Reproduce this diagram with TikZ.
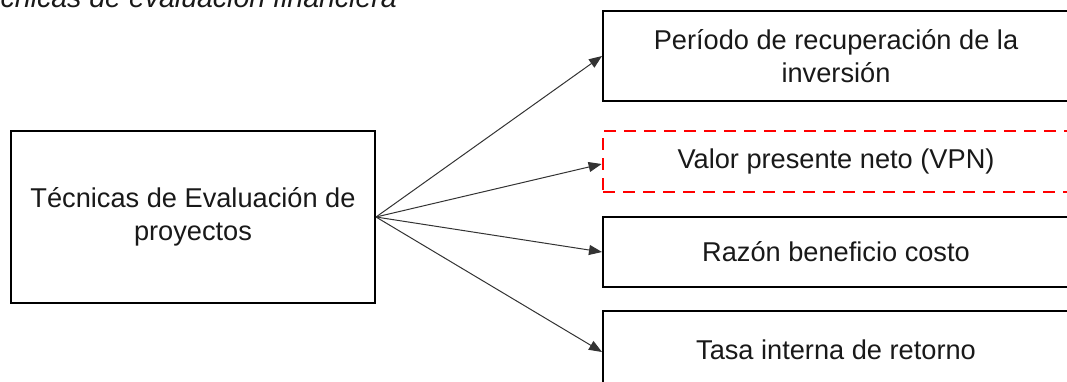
\documentclass[tikz,border=0pt]{standalone}
\usepackage{fontspec}
\setmainfont{Liberation Sans}
\usetikzlibrary{arrows.meta}
\tikzset{
  box/.style={draw=black, line width=2pt, inner sep=0pt, align=center, fill=white,
    font=\fontsize{27.2}{33}\selectfont, text=black!90},
  redbox/.style={box, draw=red, line width=2.8pt, dash pattern=on 12pt off 8pt},
  conn/.style={draw=black!80, line width=1pt, -{Triangle[length=13pt,width=10pt]}}
}
\begin{document}
\begin{tikzpicture}[x=1pt,y=-1pt]
\useasboundingbox (0,0) rectangle (1067,381);
\clip (0,0) rectangle (1067,381);
\node[anchor=base east, font=\fontsize{28.5}{34}\selectfont\itshape, text=black!90, inner sep=0pt] (title) at (397,7) {Técnicas de evaluación financiera};
\node[box, minimum width=364pt, minimum height=172pt] (main) at (193,217) {Técnicas de Evaluación de\\proyectos};
\node[box, minimum width=466pt, minimum height=90pt] (b1) at (836,56) {Período de recuperación de la\\inversión};
\node[redbox, minimum width=466pt, minimum height=61pt] (b2) at (836,161.5) {Valor presente neto (VPN)};
\node[box, minimum width=466pt, minimum height=70pt] (b3) at (836,252) {Razón beneficio costo};
\node[box, minimum width=466pt, minimum height=78pt] (b4) at (836,350) {Tasa interna de retorno};
\coordinate (src) at (main.east);
\draw[conn] (src) -- (b1.west);
\draw[conn] (src) -- ([yshift=-2.5pt]b2.west);
\draw[conn] (src) -- (b3.west);
\draw[conn] (src) -- ([yshift=-2pt]b4.west);
\end{tikzpicture}
\end{document}
